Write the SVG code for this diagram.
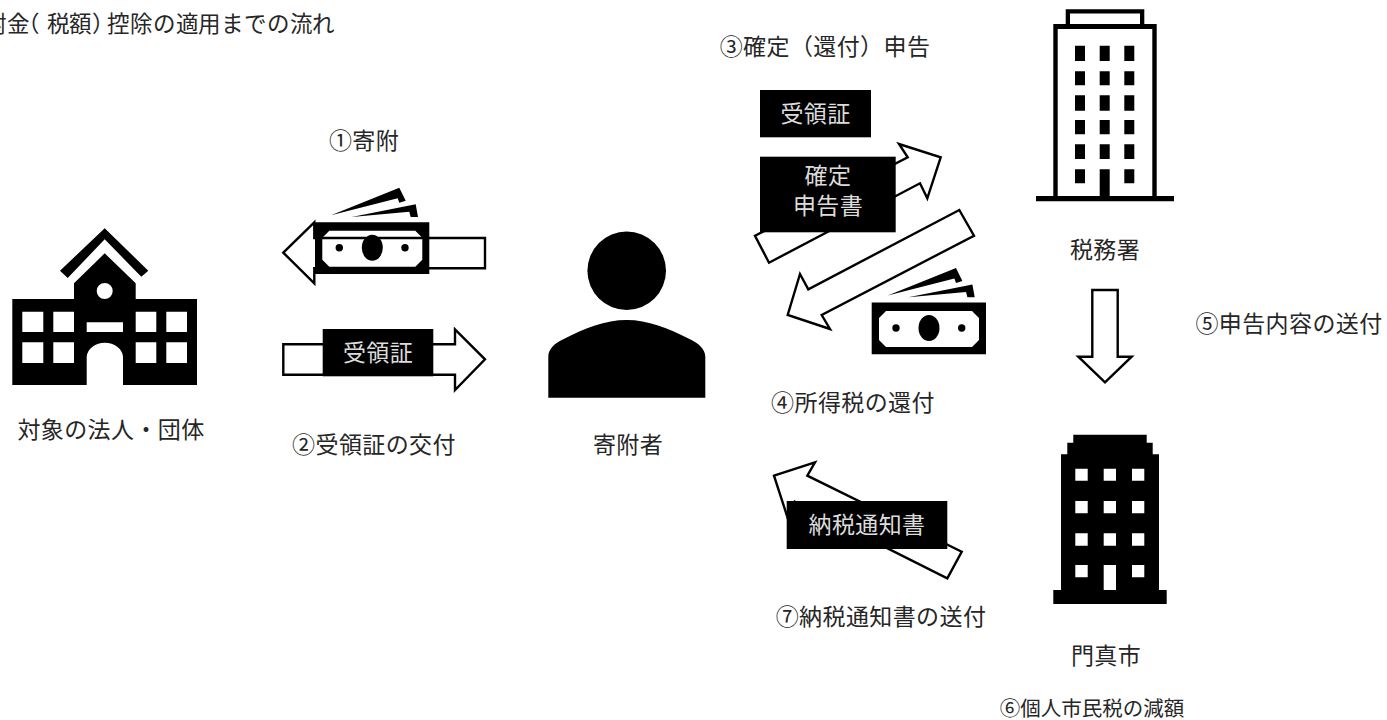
<svg xmlns="http://www.w3.org/2000/svg" xmlns:xlink="http://www.w3.org/1999/xlink" width="1387" height="720" viewBox="0 0 1387 720">
<style>
text{font-family:"Noto Sans CJK JP","Noto Sans JP",sans-serif;font-size:23px;letter-spacing:.4px;fill:#262626}
.m{text-anchor:middle}
.w{fill:#dcdcdc;text-anchor:middle}
.arrow{fill:#fff;stroke:#000;stroke-width:2.4;stroke-linejoin:miter}
.k{fill:#000}
</style>
<defs>
<g id="money">
<path class="k" fill-rule="evenodd" d="M315 222.3H429.3V274H315ZM329.3 230.7L322.3 237.7V259.7L329.3 266.7H415.3L422.3 259.7V237.7L415.3 230.7Z"/>
<ellipse class="k" cx="372.3" cy="247.7" rx="10.5" ry="13"/>
<circle class="k" cx="339.3" cy="247.7" r="3.7"/>
<circle class="k" cx="405" cy="247.7" r="3.7"/>
<polygon class="k" points="331,215.3 399.3,187.7 405.7,200.7 399.3,202.7 397.7,198.3"/>
<polygon class="k" points="351.7,217 415.7,204.3 418,217 410.7,217 409.3,211.7"/>
</g>
</defs>
<text id="title" y="32" style="font-size:22.5px;letter-spacing:0" x="-39 -16 7 17 47 69 92 107 130 153 176 198 221 244 267 290 312">寄附金（税額）控除の適用までの流れ</text>
<g id="connectors">
<polygon class="arrow" points="283.3,252.7 314.3,222.3 314.3,238 485,238 485,268.3 314.3,268.3 314.3,283.3"/>
<polygon class="arrow" points="283.3,344.3 455,344.3 455,329.3 485,359.3 455,390 455,374.7 283.3,374.7"/>
<polygon class="arrow" points="755,235.7 907.7,157.3 899,144 940.7,157.3 927.3,198.3 920,183.3 769,262.7"/>
<polygon class="arrow" points="959.3,210 974,235.7 821.7,315 830,329 787.7,315 800,274 808.3,289.3"/>
<polygon class="arrow" points="1092.3,290 1117.7,290 1117.7,356.7 1131.7,356.7 1105,382.3 1078.3,356.7 1092.3,356.7"/>
<polygon class="arrow" points="774,475.7 815,462.3 807.3,475.7 961.7,551.7 947.3,578.3 794.7,501.7 787.3,516.7"/>
</g>
<g id="school">
<polygon class="k" points="104.7,228.3 148.3,270.7 141.3,276.7 104.7,239.3 67.7,278 60,270.7"/>
<path class="k" fill-rule="evenodd" d="M104.7 253.3L135.7 283.3V299H197V385H123V356.7A18.2 15 0 0 0 86.7 356.7V385H12.3V299H74V283.3ZM96.7 291a8 8 0 1 0 16 0a8 8 0 1 0 -16 0ZM86.7 322.3H123V332H86.7ZM22.3 311.7H43.3V332H22.3ZM53.3 311.7H74V332H53.3ZM135.7 311.7H156.3V332H135.7ZM166.3 311.7H187V332H166.3ZM22.3 342.3H43.3V363H22.3ZM53.3 342.3H74V363H53.3ZM135.7 342.3H156.3V363H135.7ZM166.3 342.3H187V363H166.3Z"/>
</g>
<g id="school-label"><text class="m" x="111" y="438">対象の法人・団体</text></g>
<g id="money-1"><use href="#money" xlink:href="#money"/></g>
<g id="receipt-1"><rect class="k" x="322.7" y="329" width="110.6" height="47.3"/><text class="w" x="378" y="361">受領証</text></g>
<g id="label-1"><text class="m" x="364" y="149">①寄附</text></g>
<g id="label-2"><text class="m" x="374" y="453">②受領証の交付</text></g>
<g id="donor">
<circle class="k" cx="626.7" cy="270.7" r="39.3"/>
<path class="k" d="M548.3 397.7V356.7C548.3 349 555 343 563.3 339.3C585 328 605 320 626.7 320C648 320 668 328 690 339.3C698 343 705.3 349 705.3 356.7V397.7Z"/>
<text class="m" x="628" y="453">寄附者</text>
</g>
<g id="label-3"><text class="m" x="825" y="55">③確定（還付）申告</text></g>
<g id="receipt-2"><rect class="k" x="760" y="90" width="111" height="47.3"/><text class="w" x="815.5" y="122">受領証</text></g>
<g id="return-form"><rect class="k" x="760" y="156.7" width="135.7" height="75.6"/><text class="w"><tspan x="828" y="184">確定</tspan><tspan x="828" y="214">申告書</tspan></text></g>
<g id="money-2"><use href="#money" xlink:href="#money" transform="translate(556.7 80.3)"/></g>
<g id="label-4"><text class="m" x="853" y="411">④所得税の還付</text></g>
<g id="tax-office">
<path class="k" fill-rule="evenodd" d="M1065.7 9.3H1144.3V24H1156.7V196H1174V201.3H1036V196H1053.3V24H1065.7ZM1070 13.6V24H1140V13.6ZM1057.7 29V196H1099.7V169.3H1109.7V196H1152.3V29ZM1075 45.7H1085V61H1075ZM1099.7 45.7H1109.7V61H1099.7ZM1124.3 45.7H1134.3V61H1124.3ZM1075 71.3H1085V85.3H1075ZM1099.7 71.3H1109.7V85.3H1099.7ZM1124.3 71.3H1134.3V85.3H1124.3ZM1075 95.3H1085V110.7H1075ZM1099.7 95.3H1109.7V110.7H1099.7ZM1124.3 95.3H1134.3V110.7H1124.3ZM1075 120H1085V134.3H1075ZM1099.7 120H1109.7V134.3H1099.7ZM1124.3 120H1134.3V134.3H1124.3ZM1075 144.3H1085V159H1075ZM1099.7 144.3H1109.7V159H1099.7ZM1124.3 144.3H1134.3V159H1124.3ZM1075 169.3H1085V183.3H1075ZM1124.3 169.3H1134.3V183.3H1124.3Z"/>
<text class="m" x="1105" y="258">税務署</text>
</g>
<g id="label-5"><text class="m" x="1289" y="332">⑤申告内容の送付</text></g>
<g id="city-hall">
<path class="k" fill-rule="evenodd" d="M1073.3 434.7H1146.7V442.7H1152.7V454.3H1159V590H1166.7V604H1053.3V590H1061V454.3H1067.3V442.7H1073.3ZM1075.3 468.7H1087.7V480.7H1075.3ZM1103.7 468.7H1116V480.7H1103.7ZM1132 468.7H1144.3V480.7H1132ZM1075.3 501H1087.7V513.3H1075.3ZM1103.7 501H1116V513.3H1103.7ZM1132 501H1144.3V513.3H1132ZM1075.3 533.3H1087.7V545.7H1075.3ZM1103.7 533.3H1116V545.7H1103.7ZM1132 533.3H1144.3V545.7H1132ZM1075.3 565H1087.7V577.3H1075.3ZM1103.7 565H1116V590H1103.7ZM1132 565H1144.3V577.3H1132Z"/>
<text class="m" x="1106" y="664">門真市</text>
</g>
<g id="notice"><rect class="k" x="786.7" y="501" width="160.6" height="48"/><text class="w" x="867" y="533">納税通知書</text></g>
<g id="label-7"><text class="m" x="881" y="625">⑦納税通知書の送付</text></g>
<g id="label-6"><text class="m" x="1092" y="716" style="font-size:20.5px;letter-spacing:0">⑥個人市民税の減額</text></g>
</svg>
